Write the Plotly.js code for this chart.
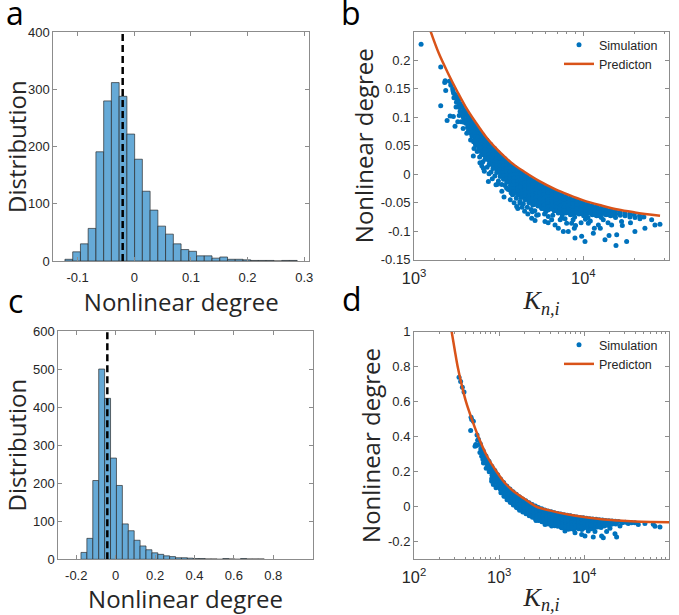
<!DOCTYPE html>
<html>
<head>
<meta charset="utf-8">
<script src="https://cdn.plot.ly/plotly-3.0.1.min.js"></script>
<style>html,body{margin:0;padding:0;background:#fff;}#chart{width:679px;height:615px;}</style>
</head>
<body>
<div id="chart"></div>
<script>
// ---------- Panel a: histogram ----------
const binCentersA = [-0.1156,-0.1019,-0.0882,-0.0746,-0.0609,-0.0472,-0.0336,-0.0199,-0.0062,0.0074,0.0211,0.0348,0.0484,0.0621,0.0758,0.0894,0.1031,0.1168,0.1304,0.1441,0.1578,0.1714,0.1851,0.1988,0.2124,0.2261,0.2398,0.2534,0.2671,0.2808];
const countsA = [3,16,30,57,191,280,312,288,222,178,122,89,61,47,30,20,17,9,9,5,7,3,3,2,1,1,1,0,1,1];
const binWidthA = 0.01367;
const meanA = -0.0205;

// ---------- Panel c: histogram ----------
const binCentersC = [-0.161,-0.131,-0.101,-0.071,-0.041,-0.011,0.019,0.049,0.079,0.109,0.139,0.169,0.199,0.229,0.259,0.289,0.319,0.349,0.379,0.409,0.439,0.469,0.499,0.529,0.559,0.589,0.619,0.649,0.679,0.709,0.739];
const countsC = [18,55,207,500,423,266,194,93,75,50,35,25,17,13,9,7,4,4,3,2,2,1,1,0,2,1,0,2,1,1,1];
const binWidthC = 0.0301;
const meanC = -0.0423;

// ---------- Panel b: simulation [K, nonlinear degree] ----------
const simB = [
[1100,0.228],[1437,0.188],[1517,0.161],[1527,0.164],[1538,0.147],[1437,0.120],[1617,0.163],[1654,0.157],[1691,0.150],[1714,0.142],
[1786,0.132],[1770,0.118],[1829,0.119],[1897,0.118],[1632,0.102],[1706,0.101],[1567,0.094],[1812,0.092],[1897,0.092],[1746,0.084],
[1954,0.103],[2000,0.108],[1650,0.156],[1700,0.146],[1750,0.140],[1800,0.136],[1780,0.126],[1720,0.134],
[2239,0.032],[2512,0.015],[2564,0.0105],[2773,0.0006],[2748,-0.013],[3048,-0.0187],[3118,-0.0175],[3525,-0.0246],[3741,-0.0327],
[3864,-0.035],[4038,-0.0567],[4228,-0.0509],[4955,-0.0772],[5184,-0.0813],[5420,-0.0713],
[5936,-0.083],[6500,-0.080],[7447,-0.077],[7972,-0.086],[7620,-0.1006],[8152,-0.1006],[8930,-0.112],[9775,-0.109],[8850,-0.0947],
[10230,-0.118],[11620,-0.0947],[11460,-0.1035],[13430,-0.115],[14190,-0.1076],[15750,-0.1064],[15600,-0.125],[18030,-0.118],
[14700,-0.0889],[16830,-0.083],[20180,-0.1006],[23120,-0.0947],[13120,-0.080],[12270,-0.0889],[10710,-0.086],[6808,-0.0889],
[6210,-0.0743],[5675,-0.0596],[7117,-0.0947],[8531,-0.086],
[2600,0.005],[2900,-0.008],[3300,-0.030],[3700,-0.045],[4100,-0.060],[4500,-0.065],[2450,0.020],[3900,-0.050],[4700,-0.070],
[5300,-0.072],[6200,-0.085],[7300,-0.080],[9000,-0.090],[9700,-0.085],[11000,-0.082],[12600,-0.095],[14000,-0.085],[17000,-0.090],
[19000,-0.085],[3400,-0.040],[4350,-0.058],[5000,-0.066],[5900,-0.070],[6600,-0.072],[7800,-0.078],[8700,-0.080],[10300,-0.079],
[1840,0.131],[1862,0.124],[1855,0.117],[1870,0.110],[1848,0.103],
[1945,0.120],[1962,0.113],[1938,0.106],[1958,0.099],[1970,0.091],[1950,0.080],
[2040,0.109],[2062,0.103],[2055,0.096],[2035,0.089],[2070,0.082],[2048,0.072],
[2140,0.099],[2165,0.093],[2152,0.087],[2130,0.080],[2170,0.072],[2158,0.060],
[2240,0.091],[2262,0.085],[2255,0.079],[2235,0.072],[2270,0.065],[2248,0.057],[2260,0.045],
[2340,0.083],[2365,0.077],[2352,0.071],[2330,0.064],[2372,0.058],[2345,0.051],[2360,0.040],
[2440,0.076],[2465,0.070],[2452,0.064],[2430,0.058],[2472,0.052],[2448,0.046],[2460,0.041],[2440,0.030],
[2540,0.069],[2568,0.063],[2552,0.058],[2530,0.052],[2575,0.046],[2545,0.040],[2560,0.034],[2550,0.022],
[2690,0.060],[2715,0.055],[2705,0.049],[2680,0.043],[2725,0.037],[2695,0.031],[2712,0.026],[2700,0.012],
[2840,0.052],[2868,0.047],[2852,0.041],[2830,0.035],[2875,0.029],[2845,0.023],[2862,0.018],[2850,0.004],
[2990,0.045],[3018,0.040],[3005,0.034],[2980,0.028],[3025,0.022],[2995,0.016],[3012,0.011],[3000,-0.003],
[3140,0.038],[3170,0.033],[3155,0.027],[3130,0.021],[3175,0.015],[3145,0.009],[3162,0.004],[3150,-0.012],
[3290,0.032],[3320,0.027],[3305,0.021],[3280,0.015],[3325,0.009],[3295,0.003],[3312,-0.003],[3300,-0.018],
[3440,0.027],[3470,0.022],[3455,0.016],[3430,0.010],[3475,0.004],[3445,-0.002],[3462,-0.008],[3450,-0.020],
[3590,0.022],[3620,0.017],[3605,0.011],[3580,0.005],[3625,-0.001],[3595,-0.007],[3612,-0.013],[3600,-0.027],
[3790,0.016],[3820,0.011],[3805,0.005],[3780,-0.001],[3825,-0.007],[3795,-0.013],[3812,-0.019],[3800,-0.025],[3815,-0.036],
[3990,0.011],[4025,0.006],[4005,0.000],[3980,-0.006],[4030,-0.012],[3995,-0.018],[4015,-0.024],[4000,-0.030],[4020,-0.042],
[4190,0.006],[4225,0.001],[4205,-0.005],[4180,-0.011],[4230,-0.017],[4195,-0.023],[4215,-0.029],[4200,-0.035],[4220,-0.048],
[4390,0.002],[4425,-0.003],[4405,-0.009],[4380,-0.015],[4430,-0.021],[4395,-0.027],[4415,-0.033],[4400,-0.039],[4420,-0.052],
[4640,-0.003],[4675,-0.008],[4655,-0.014],[4630,-0.020],[4680,-0.026],[4645,-0.032],[4665,-0.038],[4650,-0.044],[4670,-0.058],
[4890,-0.008],[4925,-0.013],[4905,-0.019],[4880,-0.025],[4930,-0.031],[4895,-0.037],[4915,-0.043],[4900,-0.049],[4920,-0.062],
[5140,-0.012],[5175,-0.017],[5155,-0.023],[5130,-0.029],[5180,-0.035],[5145,-0.041],[5165,-0.047],[5150,-0.053],[5170,-0.064],
[5390,-0.015],[5425,-0.020],[5405,-0.026],[5380,-0.032],[5430,-0.038],[5395,-0.044],[5415,-0.050],[5400,-0.056],
[5690,-0.019],[5725,-0.024],[5705,-0.030],[5680,-0.036],[5730,-0.042],[5695,-0.048],[5715,-0.054],[5700,-0.060],
[5990,-0.023],[6030,-0.028],[6005,-0.034],[5980,-0.040],[6035,-0.046],[5995,-0.052],[6015,-0.058],[6000,-0.066],
[6340,-0.026],[6380,-0.031],[6355,-0.037],[6330,-0.043],[6385,-0.049],[6345,-0.055],[6365,-0.061],
[6690,-0.029],[6730,-0.034],[6705,-0.040],[6680,-0.046],[6735,-0.052],[6695,-0.058],[6715,-0.064],
[7090,-0.033],[7130,-0.038],[7105,-0.044],[7080,-0.050],[7135,-0.056],[7095,-0.062],[7115,-0.068],
[7490,-0.036],[7530,-0.041],[7505,-0.047],[7480,-0.053],[7535,-0.059],[7495,-0.065],[7515,-0.071],
[7890,-0.039],[7930,-0.044],[7905,-0.050],[7880,-0.056],[7935,-0.062],[7895,-0.068],
[8390,-0.042],[8430,-0.047],[8405,-0.053],[8380,-0.059],[8435,-0.065],[8395,-0.071],
[8890,-0.045],[8930,-0.050],[8905,-0.056],[8880,-0.062],[8935,-0.068],[8895,-0.075],
[9390,-0.047],[9430,-0.052],[9405,-0.058],[9380,-0.064],[9435,-0.070],
[9990,-0.050],[10040,-0.055],[10005,-0.061],[9980,-0.067],[10045,-0.073],
[10590,-0.052],[10640,-0.057],[10605,-0.062],[10580,-0.068],[10650,-0.076],
[11290,-0.055],[11340,-0.060],[11305,-0.065],[11280,-0.071],
[11990,-0.057],[12040,-0.062],[12005,-0.067],[11980,-0.073],
[12790,-0.059],[12840,-0.064],[12805,-0.069],[12780,-0.076],
[13590,-0.061],[13640,-0.066],[13605,-0.071],
[14490,-0.063],[14540,-0.068],[14505,-0.073],
[15490,-0.065],[15540,-0.070],[15505,-0.076],
[16490,-0.067],[16540,-0.072],[17590,-0.068],[17640,-0.073],[18790,-0.070],[18840,-0.075],
[19990,-0.071],[20200,-0.076],[21490,-0.073],[21600,-0.078],[22800,-0.075],
[25340,-0.080],[26500,-0.089],[28370,-0.0877],
[2100,0.101],[2108,0.095],[2095,0.089],[2104,0.083],[2098,0.076],
[2200,0.092],[2208,0.086],[2195,0.080],[2204,0.074],[2198,0.067],
[2300,0.084],[2310,0.078],[2295,0.072],[2305,0.066],[2298,0.059],[2306,0.052],
[2400,0.077],[2410,0.071],[2395,0.065],[2405,0.059],[2398,0.053],[2406,0.046],
[2500,0.070],[2510,0.064],[2495,0.058],[2505,0.052],[2498,0.046],[2506,0.040],[2502,0.034],
[2625,0.062],[2636,0.056],[2618,0.050],[2630,0.044],[2622,0.038],[2634,0.032],[2628,0.026],
[2775,0.053],[2788,0.047],[2768,0.041],[2780,0.035],[2772,0.029],[2785,0.023],[2778,0.017],
[2925,0.046],[2938,0.040],[2918,0.034],[2930,0.028],[2922,0.022],[2935,0.016],[2928,0.010],
[3075,0.039],[3090,0.033],[3068,0.027],[3082,0.021],[3072,0.015],[3086,0.009],[3078,0.003],
[3225,0.032],[3240,0.026],[3218,0.020],[3232,0.014],[3222,0.008],[3236,0.002],[3228,-0.004],
[3375,0.027],[3390,0.021],[3368,0.015],[3382,0.009],[3372,0.003],[3386,-0.003],[3378,-0.009],
[3525,0.022],[3540,0.016],[3518,0.010],[3532,0.004],[3522,-0.002],[3536,-0.008],[3528,-0.014],
[3700,0.016],[3716,0.010],[3692,0.004],[3708,-0.002],[3696,-0.008],[3712,-0.014],[3704,-0.020],[3698,-0.026],
[3900,0.011],[3916,0.005],[3892,-0.001],[3908,-0.007],[3896,-0.013],[3912,-0.019],[3904,-0.025],[3898,-0.031],
[4100,0.006],[4118,0.000],[4092,-0.006],[4110,-0.012],[4096,-0.018],[4114,-0.024],[4104,-0.030],[4098,-0.036],
[4300,0.001],[4318,-0.005],[4292,-0.011],[4310,-0.017],[4296,-0.023],[4314,-0.029],[4304,-0.035],[4298,-0.041],
[4525,-0.003],[4545,-0.009],[4515,-0.015],[4535,-0.021],[4520,-0.027],[4540,-0.033],[4530,-0.039],[4522,-0.045],
[4775,-0.008],[4795,-0.014],[4765,-0.020],[4785,-0.026],[4770,-0.032],[4790,-0.038],[4780,-0.044],[4772,-0.050],
[5025,-0.012],[5045,-0.018],[5015,-0.024],[5035,-0.030],[5020,-0.036],[5040,-0.042],[5030,-0.048],[5022,-0.054],
[5275,-0.016],[5298,-0.022],[5265,-0.028],[5288,-0.034],[5270,-0.040],[5292,-0.046],[5280,-0.052],
[5550,-0.020],[5575,-0.026],[5540,-0.032],[5565,-0.038],[5545,-0.044],[5570,-0.050],[5555,-0.056],
[5850,-0.024],[5875,-0.030],[5840,-0.036],[5865,-0.042],[5845,-0.048],[5870,-0.054],[5855,-0.060],
[6175,-0.027],[6200,-0.033],[6165,-0.039],[6190,-0.045],[6170,-0.051],[6195,-0.057],[6180,-0.063],
[6525,-0.030],[6555,-0.036],[6515,-0.042],[6545,-0.048],[6520,-0.054],[6550,-0.060],
[6900,-0.034],[6930,-0.040],[6890,-0.046],[6920,-0.052],[6895,-0.058],[6925,-0.064],
[7300,-0.037],[7330,-0.043],[7290,-0.049],[7320,-0.055],[7295,-0.061],[7325,-0.067],
[7700,-0.040],[7735,-0.046],[7690,-0.052],[7725,-0.058],[7695,-0.064],
[8150,-0.043],[8185,-0.049],[8140,-0.055],[8175,-0.061],[8145,-0.067],
[8650,-0.046],[8690,-0.052],[8640,-0.058],[8680,-0.064],[8645,-0.070],
[9150,-0.049],[9190,-0.055],[9140,-0.061],[9180,-0.067],
[9700,-0.051],[9745,-0.057],[9690,-0.063],[9735,-0.069],
[10300,-0.054],[10350,-0.060],[10290,-0.066],[10340,-0.072],
[10950,-0.056],[11000,-0.062],[10940,-0.068],
[11650,-0.059],[11700,-0.065],[11640,-0.071],
[12400,-0.061],[12450,-0.067],[12390,-0.073],
[13200,-0.063],[13250,-0.069],[14050,-0.065],[14100,-0.071],[15000,-0.067],[15050,-0.072]
];
// Panel b prediction curve [K, value]
const predB = [[1254,0.250],[1400,0.212],[1600,0.175],[1800,0.145],[2000,0.120],[2300,0.092],[2700,0.063],[3200,0.039],[3800,0.019],[4500,0.004],[5500,-0.012],[6800,-0.026],[8150,-0.036],[10000,-0.046],[12820,-0.055],[16000,-0.062],[20180,-0.067],[28400,-0.073]];

// ---------- Panel d: simulation [K, nonlinear degree] ----------
const simD = [
[338,0.739],[353,0.716],[370,0.682],[387,0.655],[468,0.511],[476,0.498],[498,0.488],[463,0.435],[521,0.346],[531,0.355],
[570,0.385],[597,0.355],[653,0.31],[624,0.289],[714,0.26],[728,0.241],[782,0.203],[818,0.146],[855,0.127],[920,0.108],
[1024,0.108],[1172,0.080],[1342,0.061],[1469,0.032],[1761,0.023],[2016,-0.015],[2415,-0.025],[2715,-0.078],
[3467,-0.1007],[4150,-0.110],[5435,-0.120],[5946,-0.139],[6510,-0.129],[7800,-0.148],[9346,-0.158],[10210,-0.167],
[11170,-0.139],[12790,-0.173],[13390,-0.142],[16030,-0.167],[16780,-0.177],[18360,-0.142],[20090,-0.123],[23010,-0.154],
[24060,-0.173],[26340,-0.110],[32970,-0.095],[36130,-0.091],[43250,-0.1007],[51790,-0.095],[64860,-0.100],[67900,-0.112],
[77800,-0.116],[39500,-0.092],
[550,0.41],[560,0.38],[545,0.35],
[600,0.36],[610,0.33],[595,0.31],
[650,0.32],[660,0.30],[645,0.27],[655,0.25],
[700,0.29],[712,0.27],[695,0.25],[705,0.22],
[760,0.26],[770,0.24],[752,0.22],[765,0.20],
[820,0.232],[832,0.215],[815,0.198],[826,0.18],[818,0.16],
[890,0.207],[900,0.19],[885,0.175],[895,0.158],[888,0.14],
[960,0.183],[972,0.167],[955,0.152],[966,0.137],[958,0.12],
[1040,0.158],[1052,0.143],[1035,0.128],[1046,0.113],[1038,0.098],[1050,0.08],
[1130,0.138],[1142,0.123],[1125,0.108],[1136,0.093],[1128,0.078],[1140,0.06],
[1230,0.118],[1245,0.103],[1224,0.088],[1238,0.073],[1228,0.058],[1240,0.04],
[1340,0.101],[1355,0.086],[1334,0.071],[1348,0.056],[1338,0.041],[1350,0.025],
[1460,0.085],[1475,0.07],[1454,0.055],[1468,0.04],[1458,0.025],[1470,0.01],
[1590,0.071],[1605,0.056],[1584,0.041],[1598,0.026],[1588,0.011],[1600,-0.005],
[1730,0.057],[1745,0.042],[1724,0.027],[1738,0.012],[1728,-0.003],[1740,-0.02],
[1890,0.045],[1905,0.03],[1884,0.015],[1898,0.0],[1888,-0.015],[1900,-0.03],
[2060,0.034],[2078,0.018],[2054,0.003],[2070,-0.012],[2058,-0.027],[2072,-0.04],
[2250,0.023],[2268,0.008],[2244,-0.007],[2260,-0.022],[2248,-0.037],[2262,-0.052],
[2450,0.013],[2470,-0.002],[2444,-0.017],[2460,-0.032],[2448,-0.047],[2465,-0.06],
[2670,0.004],[2690,-0.011],[2664,-0.026],[2680,-0.041],[2668,-0.056],[2685,-0.07],
[2900,-0.004],[2922,-0.019],[2894,-0.034],[2912,-0.049],[2898,-0.064],[2915,-0.078],
[3170,-0.011],[3192,-0.026],[3164,-0.041],[3182,-0.056],[3168,-0.071],[3185,-0.085],
[3450,-0.018],[3475,-0.033],[3444,-0.048],[3462,-0.063],[3448,-0.078],[3465,-0.092],
[3760,-0.024],[3785,-0.039],[3754,-0.054],[3772,-0.069],[3758,-0.084],[3775,-0.098],
[4100,-0.029],[4128,-0.044],[4094,-0.059],[4114,-0.074],[4098,-0.089],[4118,-0.103],
[4470,-0.034],[4500,-0.049],[4464,-0.064],[4486,-0.079],[4468,-0.094],[4490,-0.108],
[4880,-0.038],[4912,-0.053],[4874,-0.068],[4896,-0.083],[4878,-0.098],[4900,-0.112],
[5320,-0.042],[5355,-0.057],[5314,-0.072],[5338,-0.087],[5318,-0.102],[5342,-0.116],
[5800,-0.046],[5838,-0.061],[5794,-0.076],[5820,-0.091],[5798,-0.106],[5825,-0.12],
[6330,-0.049],[6370,-0.064],[6324,-0.079],[6350,-0.094],[6328,-0.109],[6355,-0.124],
[6900,-0.052],[6945,-0.067],[6894,-0.082],[6922,-0.097],[6898,-0.112],[6925,-0.126],
[7530,-0.055],[7580,-0.07],[7524,-0.085],[7555,-0.1],[7528,-0.115],[7560,-0.13],
[8200,-0.058],[8255,-0.073],[8194,-0.088],[8228,-0.103],[8198,-0.118],
[8950,-0.061],[9010,-0.076],[8944,-0.091],[8980,-0.106],[8948,-0.121],
[9760,-0.063],[9825,-0.078],[9754,-0.093],[9792,-0.108],[9758,-0.123],
[10640,-0.066],[10710,-0.081],[10634,-0.096],[10675,-0.111],
[11600,-0.068],[11680,-0.083],[11594,-0.098],[11640,-0.113],
[12650,-0.07],[12735,-0.085],[12644,-0.1],[12690,-0.115],
[13800,-0.072],[13890,-0.087],[13794,-0.102],
[15050,-0.074],[15150,-0.089],[15044,-0.104],
[16400,-0.076],[16510,-0.091],[16394,-0.106],
[17900,-0.078],[18020,-0.093],[19500,-0.08],[19630,-0.095],
[21300,-0.081],[21440,-0.096],[23200,-0.083],[25300,-0.084],
[2150,0.012],[2350,0.0],[2560,-0.015],[2780,-0.03],[3020,-0.045],[3300,-0.06],[3600,-0.07],[3950,-0.08],[4300,-0.09],
[4700,-0.095],[5100,-0.1],[5550,-0.105],[6050,-0.11],[6600,-0.115],[7200,-0.118],[7900,-0.12],[8600,-0.125],[9400,-0.13],
[10200,-0.118],[11100,-0.122],[12100,-0.125],[13200,-0.12],[14400,-0.115],[15800,-0.118],[17300,-0.11],[19000,-0.105],
[21000,-0.1],[23500,-0.098],[28000,-0.092],[30500,-0.088],
[1080,0.140],[1088,0.125],[1075,0.110],[1085,0.095],[1078,0.080],
[1180,0.120],[1190,0.105],[1175,0.090],[1186,0.075],[1178,0.060],
[1285,0.102],[1296,0.087],[1280,0.072],[1292,0.057],[1283,0.042],
[1400,0.086],[1412,0.071],[1394,0.056],[1408,0.041],[1398,0.026],
[1525,0.070],[1538,0.055],[1518,0.040],[1532,0.025],[1522,0.010],
[1660,0.056],[1675,0.041],[1652,0.026],[1668,0.011],[1656,-0.004],
[1810,0.043],[1826,0.028],[1802,0.013],[1818,-0.002],[1806,-0.017],
[1975,0.032],[1992,0.017],[1966,0.002],[1984,-0.013],[1970,-0.028],
[2155,0.021],[2174,0.006],[2146,-0.009],[2166,-0.024],[2150,-0.039],
[2350,0.010],[2370,-0.005],[2340,-0.020],[2362,-0.035],[2345,-0.050],
[2560,0.001],[2582,-0.014],[2550,-0.029],[2574,-0.044],[2555,-0.059],
[2785,-0.007],[2808,-0.022],[2775,-0.037],[2800,-0.052],[2780,-0.067],
[3035,-0.015],[3060,-0.030],[3025,-0.045],[3052,-0.060],[3030,-0.075],
[3310,-0.022],[3338,-0.037],[3300,-0.052],[3330,-0.067],[3305,-0.082],
[3605,-0.028],[3635,-0.043],[3595,-0.058],[3625,-0.073],[3600,-0.088],
[3930,-0.034],[3962,-0.049],[3920,-0.064],[3952,-0.079],[3925,-0.094],
[4285,-0.039],[4320,-0.054],[4275,-0.069],[4310,-0.084],[4280,-0.099],
[4675,-0.043],[4712,-0.058],[4665,-0.073],[4702,-0.088],[4670,-0.103],
[5100,-0.047],[5140,-0.062],[5090,-0.077],[5130,-0.092],[5095,-0.107],
[5560,-0.051],[5605,-0.066],[5550,-0.081],[5595,-0.096],[5555,-0.111],
[6065,-0.055],[6115,-0.070],[6055,-0.085],[6105,-0.100],[6060,-0.115],
[6615,-0.058],[6670,-0.073],[6605,-0.088],[6660,-0.103],[6610,-0.118],
[7215,-0.061],[7275,-0.076],[7205,-0.091],[7265,-0.106],[7210,-0.121],
[7865,-0.064],[7930,-0.079],[7855,-0.094],[7920,-0.109],
[8575,-0.067],[8645,-0.082],[8565,-0.097],[8635,-0.112],
[9355,-0.069],[9430,-0.084],[9345,-0.099],[9420,-0.114],
[10200,-0.072],[10285,-0.087],[10190,-0.102],
[11120,-0.074],[11210,-0.089],[11110,-0.104],
[12120,-0.076],[12220,-0.091],[12110,-0.106]
];
// Panel d prediction curve [K, value]
const predD = [[277,1.0],[300,0.9],[326,0.8],[362,0.7],[408,0.6],[470,0.51],[570,0.4],[720,0.29],[936,0.2],[1200,0.13],[1468,0.09],[2000,0.044],[2761,0.0],[4000,-0.022],[6510,-0.044],[10000,-0.059],[16030,-0.072],[25000,-0.079],[39500,-0.084],[63000,-0.087],[100000,-0.089]];

// tick labels
const ticksAx = [-0.1,0,0.1,0.2,0.3], ticksAxText = ['-0.1','0','0.1','0.2','0.3'];
const ticksAy = [0,100,200,300,400];
const ticksBy = [-0.15,-0.1,-0.05,0,0.05,0.1,0.15,0.2], ticksByText = ['-0.15','-0.1','-0.05','0','0.05','0.1','0.15','0.2'];
const ticksCx = [-0.2,0,0.2,0.4,0.6,0.8], ticksCxText = ['-0.2','0','0.2','0.4','0.6','0.8'];
const ticksCy = [0,100,200,300,400,500,600];
const ticksDy = [-0.2,0,0.2,0.4,0.6,0.8,1], ticksDyText = ['-0.2','0','0.2','0.4','0.6','0.8','1'];

const BLUE = '#0072BD', ORANGE = '#D95319', HISTFILL = '#66AAD7';
const tickFont = {family: 'Liberation Sans, Arial, sans-serif', size: 13, color: '#262626'};
const titleFont = {family: 'Open Sans, sans-serif', size: 24, color: '#262626'};
const kFont = {family: 'Liberation Serif, DejaVu Serif, serif', size: 26, color: '#262626'};

function axisBase(extra) {
  return Object.assign({
    showline: true, linecolor: '#8c8c8c', linewidth: 1, mirror: 'ticks',
    ticks: 'inside', ticklen: 4, tickwidth: 1, tickcolor: '#8c8c8c',
    showgrid: false, zeroline: false, tickfont: tickFont, fixedrange: true
  }, extra);
}

const traces = [
  {type: 'bar', x: binCentersA, y: countsA, width: binWidthA, xaxis: 'x', yaxis: 'y',
   marker: {color: HISTFILL, line: {color: 'rgba(40,40,40,0.85)', width: 0.8}}, showlegend: false},
  {type: 'scatter', mode: 'lines', x: [meanA, meanA], y: [0, 400], xaxis: 'x', yaxis: 'y',
   line: {color: '#000', width: 2.5, dash: '7px,4px'}, showlegend: false},
  {type: 'bar', x: binCentersC, y: countsC, width: binWidthC, xaxis: 'x3', yaxis: 'y3',
   marker: {color: HISTFILL, line: {color: 'rgba(40,40,40,0.85)', width: 0.8}}, showlegend: false},
  {type: 'scatter', mode: 'lines', x: [meanC, meanC], y: [0, 600], xaxis: 'x3', yaxis: 'y3',
   line: {color: '#000', width: 2.5, dash: '7px,4px'}, showlegend: false},
  {type: 'scatter', mode: 'markers', name: 'Simulation', x: simB.map(p => p[0]), y: simB.map(p => p[1]),
   xaxis: 'x2', yaxis: 'y2', marker: {color: BLUE, size: 5}, legend: 'legend'},
  {type: 'scatter', mode: 'lines', name: 'Predicton', x: predB.map(p => p[0]), y: predB.map(p => p[1]),
   xaxis: 'x2', yaxis: 'y2', line: {color: ORANGE, width: 2.5, shape: 'spline', smoothing: 1}, legend: 'legend'},
  {type: 'scatter', mode: 'markers', name: 'Simulation', x: simD.map(p => p[0]), y: simD.map(p => p[1]),
   xaxis: 'x4', yaxis: 'y4', marker: {color: BLUE, size: 5}, legend: 'legend2'},
  {type: 'scatter', mode: 'lines', name: 'Predicton', x: predD.map(p => p[0]), y: predD.map(p => p[1]),
   xaxis: 'x4', yaxis: 'y4', line: {color: ORANGE, width: 2.5, shape: 'spline', smoothing: 1}, legend: 'legend2'}
];

const legendStyle = {bgcolor: 'rgba(0,0,0,0)', borderwidth: 0, font: {family: 'Liberation Sans, Arial, sans-serif', size: 12.5, color: '#262626'},
  xanchor: 'left', yanchor: 'top', tracegroupgap: 0, itemclick: false};

const layout = {
  width: 679, height: 615, margin: {l: 0, r: 0, t: 0, b: 0},
  paper_bgcolor: '#fff', plot_bgcolor: '#fff', bargap: 0,
  xaxis: axisBase({domain: [0.0785, 0.4555], range: [-0.143, 0.309], tickvals: ticksAx, ticktext: ticksAxText, anchor: 'y',
    ticklabelstandoff: 4, title: {text: 'Nonlinear degree', font: titleFont, standoff: 2}}),
  yaxis: axisBase({domain: [0.5756, 0.9475], range: [0, 400], tickvals: ticksAy, anchor: 'x',
    title: {text: 'Distribution', font: titleFont, standoff: 0}}),
  xaxis2: axisBase({domain: [0.6097, 0.9857], type: 'log', range: [2.9995, 4.508], dtick: 1, exponentformat: 'power', anchor: 'y2',
    ticklabelstandoff: 4, minor: {ticks: 'inside', ticklen: 2, tickcolor: '#8c8c8c', dtick: 'D1', showgrid: false},
    title: {text: '<i>K</i><sub><i>n,i</i></sub>', font: kFont, standoff: 5}}),
  yaxis2: axisBase({domain: [0.5777, 0.9485], range: [-0.15, 0.25], tickvals: ticksBy, ticktext: ticksByText, anchor: 'x2',
    title: {text: 'Nonlinear degree', font: titleFont, standoff: 0}}),
  xaxis3: axisBase({domain: [0.0859, 0.4605], range: [-0.291, 1.0], tickvals: ticksCx, ticktext: ticksCxText, anchor: 'y3',
    ticklabelstandoff: 4, title: {text: 'Nonlinear degree', font: titleFont, standoff: 2}}),
  yaxis3: axisBase({domain: [0.0906, 0.4618], range: [0, 600], tickvals: ticksCy, anchor: 'x3',
    title: {text: 'Distribution', font: titleFont, standoff: 0}}),
  xaxis4: axisBase({domain: [0.6097, 0.9857], type: 'log', range: [1.9995, 5.0005], dtick: 1, exponentformat: 'power', anchor: 'y4',
    ticklabelstandoff: 4, minor: {ticks: 'inside', ticklen: 2, tickcolor: '#8c8c8c', dtick: 'D1', showgrid: false},
    title: {text: '<i>K</i><sub><i>n,i</i></sub>', font: kFont, standoff: 5}}),
  yaxis4: axisBase({domain: [0.0906, 0.4607], range: [-0.3, 1.0], tickvals: ticksDy, ticktext: ticksDyText, anchor: 'x4',
    title: {text: 'Nonlinear degree', font: titleFont, standoff: 0}}),
  legend: Object.assign({x: 559/679, y: 1 - 30/615}, legendStyle),
  legend2: Object.assign({x: 559/679, y: 1 - 330/615}, legendStyle),
  annotations: [
    {text: 'a', x: 15/679, y: 1 + 10/615},
    {text: 'b', x: 351/679, y: 1 + 10/615},
    {text: 'c', x: 15/679, y: 1 - 278/615},
    {text: 'd', x: 352/679, y: 1 - 276/615}
  ].map(a => Object.assign({xref: 'paper', yref: 'paper', showarrow: false, xanchor: 'center', yanchor: 'top',
    borderpad: 0, font: {family: 'Open Sans, sans-serif', size: 32, color: '#000'}}, a))
};

Plotly.newPlot('chart', traces, layout, {displayModeBar: false, staticPlot: true});
</script>
</body>
</html>
